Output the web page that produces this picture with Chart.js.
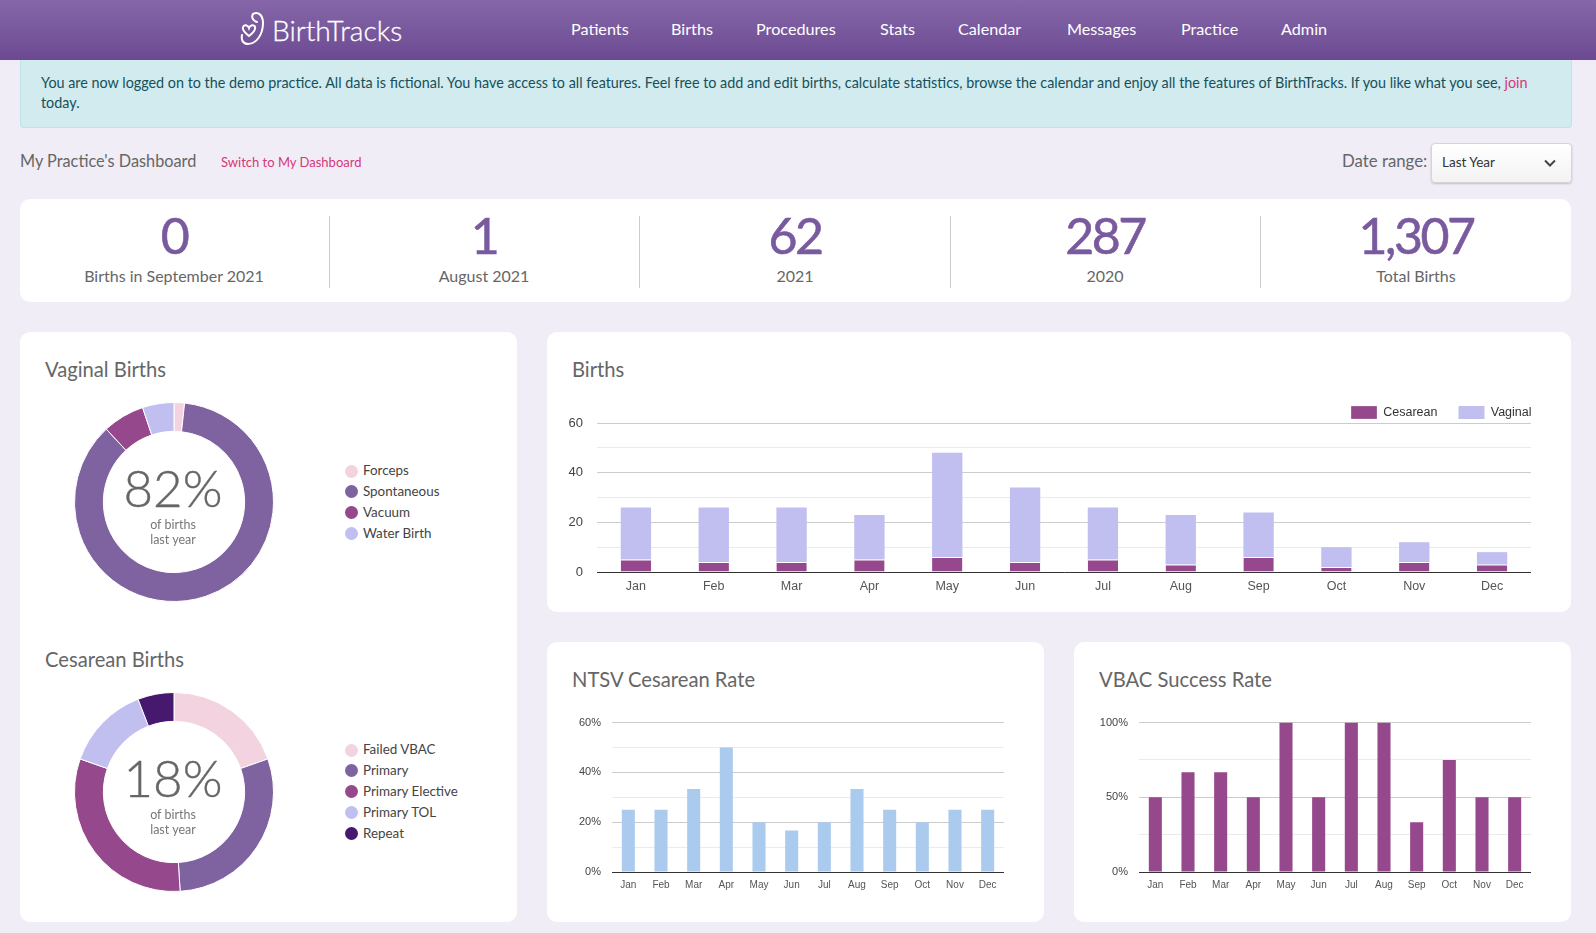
<!DOCTYPE html>
<html>
<head>
<meta charset="utf-8">
<title>BirthTracks</title>
<script src="https://cdn.jsdelivr.net/npm/chart.js@4"></script>
<style>
html, body { margin: 0; padding: 0; }
body { width: 1596px; height: 933px; overflow: hidden; position: relative; background: #f0edf7; font-family: Lato, sans-serif; color: #666; }
.abs, .card, canvas, .t { position: absolute; }
.t { white-space: nowrap; line-height: 1; }
.card { background: #fff; border-radius: 10px; }
#header { position: absolute; left: 0; top: 0; width: 1596px; height: 60px; background: linear-gradient(#8667a9, #6c4a92); }
#header .t { color: #fff; font-size: 16.2px; top: 21px; }
#alert { position: absolute; left: 20px; top: 60px; width: 1550px; height: 67px; background: #d1ebef; border: 1px solid #bfe4e8; border-top: 0; border-radius: 0 0 4px 4px; }
#alert .t { color: #17505a; font-size: 14.37px; left: 20px; }
.title { font-size: 20.2px; color: #666; }
.num { font-size: 50px; color: #7a5a9f; transform: translateX(-50%); top: 210px; letter-spacing: -2.5px; -webkit-text-stroke: .6px #7a5a9f; }
.lab { font-size: 16px; color: #666; transform: translateX(-50%); top: 268px; }
.div { position: absolute; top: 216px; width: 1px; height: 72px; background: #ccc; }
.big { font-size: 51px; font-weight: 300; color: #666; transform: translateX(-50%); -webkit-text-stroke: .4px #666; }
.small { font-size: 12.5px; color: #777; transform: translateX(-50%); }
.dot { position: absolute; width: 13px; height: 13px; border-radius: 50%; }
.leg { font-size: 13.4px; color: #444; }
#select { position: absolute; left: 1431px; top: 143px; width: 139px; height: 38px; border: 1px solid #d5d5d5; border-radius: 4px; background: linear-gradient(#fff, #f3f3f3); box-shadow: 0 1px 2px rgba(0,0,0,.2); }
</style>
</head>
<body>

<div id="header">
  <svg class="abs" style="left:238px;top:11px" width="30" height="36" viewBox="0 0 30 36" fill="none" stroke="#fff" stroke-width="2" stroke-linecap="round">
    <path d="M15 3 C20 0 25 4 25 12 C25 24 18 33 10 33 C5 33 3 29 4 24"/>
    <path d="M15 3 C13 6 15 10 19 11"/>
    <path d="M11 25 C7 22 4 19 5 16 C6 13 10 14 11 17 C12 14 16 13 17 16 C18 19 15 22 11 25 Z"/>
  </svg>
  <div class="t" style="left:272px;top:16px;font-size:28.2px;font-weight:300;color:#fff;-webkit-text-stroke:.3px #fff">BirthTracks</div>
  <div class="t" style="left:571px">Patients</div>
  <div class="t" style="left:671px">Births</div>
  <div class="t" style="left:756px">Procedures</div>
  <div class="t" style="left:880px">Stats</div>
  <div class="t" style="left:958px">Calendar</div>
  <div class="t" style="left:1067px">Messages</div>
  <div class="t" style="left:1181px">Practice</div>
  <div class="t" style="left:1281px">Admin</div>
</div>

<div id="alert">
  <div class="t" style="top:16px">You are now logged on to the demo practice. All data is fictional. You have access to all features. Feel free to add and edit births, calculate statistics, browse the calendar and enjoy all the features of BirthTracks. If you like what you see, <span style="color:#d6377a">join</span></div>
  <div class="t" style="top:36px">today.</div>
</div>

<div class="t" style="left:20px;top:153px;font-size:16.3px">My Practice's Dashboard</div>
<div class="t" style="left:221px;top:156px;font-size:13px;color:#d6377a">Switch to My Dashboard</div>
<div class="t" style="left:1342px;top:153px;font-size:16.8px">Date range:</div>
<div id="select">
  <div class="t" style="left:10px;top:12px;font-size:13.5px;color:#333">Last Year</div>
  <svg class="abs" style="left:112px;top:15px" width="12" height="9" viewBox="0 0 12 9" fill="none" stroke="#444" stroke-width="2"><path d="M1 1.5 L6 6.5 L11 1.5"/></svg>
</div>

<div class="card" style="left:20px;top:199px;width:1551px;height:103px"></div>
<div class="div" style="left:329px"></div>
<div class="div" style="left:639px"></div>
<div class="div" style="left:950px"></div>
<div class="div" style="left:1260px"></div>
<div id="stats"></div>

<div class="card" style="left:20px;top:332px;width:497px;height:590px"></div>
<div class="card" style="left:547px;top:332px;width:1024px;height:280px"></div>
<div class="card" style="left:547px;top:642px;width:497px;height:280px"></div>
<div class="card" style="left:1074px;top:642px;width:497px;height:280px"></div>

<div class="t title" style="left:45px;top:359px">Vaginal Births</div>
<div class="t title" style="left:45px;top:649px">Cesarean Births</div>
<div class="t title" style="left:572px;top:359px">Births</div>
<div class="t title" style="left:572px;top:669px">NTSV Cesarean Rate</div>
<div class="t title" style="left:1099px;top:669px">VBAC Success Rate</div>

<canvas id="vaginalChart" width="200" height="200" style="left:74px;top:402px"></canvas>
<canvas id="cesareanChart" width="200" height="200" style="left:74px;top:692px"></canvas>
<div class="t big" style="left:173px;top:462px">82%</div>
<div class="t small" style="left:173px;top:519px">of births</div>
<div class="t small" style="left:173px;top:534px">last year</div>
<div class="t big" style="left:173px;top:752px">18%</div>
<div class="t small" style="left:173px;top:809px">of births</div>
<div class="t small" style="left:173px;top:824px">last year</div>
<div id="legends"></div>

<canvas id="birthsChart" width="984" height="217" style="left:547px;top:385px"></canvas>
<canvas id="ntsvChart" width="442" height="197" style="left:562px;top:705px"></canvas>
<canvas id="vbacChart" width="442" height="197" style="left:1089px;top:705px"></canvas>

<script>
const months = ["Jan", "Feb", "Mar", "Apr", "May", "Jun", "Jul", "Aug", "Sep", "Oct", "Nov", "Dec"];

const statValues = ["0", "1", "62", "287", "1,307"];
const statLabels = ["Births in September 2021", "August 2021", "2021", "2020", "Total Births"];

const vaginalLabels = ["Forceps", "Spontaneous", "Vacuum", "Water Birth"];
const vaginalValues = [4, 203, 16, 12];
const vaginalColors = ["#f3d3e0", "#7f62a0", "#96488d", "#c0bff0"];

const cesareanLabels = ["Failed VBAC", "Primary", "Primary Elective", "Primary TOL", "Repeat"];
const cesareanValues = [10, 15, 16, 7, 3];
const cesareanColors = ["#f3d3e0", "#7f62a0", "#96488d", "#c0bff0", "#46196f"];

const cesareanBirths = [5, 4, 4, 5, 6, 4, 5, 3, 6, 2, 4, 3];
const vaginalBirths = [21, 22, 22, 18, 42, 30, 21, 20, 18, 8, 8, 5];
const ntsvRate = [25, 25, 33.3, 50, 20, 16.7, 20, 33.3, 25, 20, 25, 25];
const vbacRate = [50, 66.7, 66.7, 50, 100, 50, 100, 100, 33.3, 75, 50, 50];

Chart.defaults.animation = false;
Chart.defaults.responsive = false;
Chart.defaults.font.family = "'Liberation Sans', Arial, sans-serif";
Chart.defaults.plugins.tooltip.enabled = false;

// stat strip
const statCenters = [174, 484, 795, 1105, 1416];
let statHtml = "";
statValues.forEach(function (v, i) {
    statHtml += '<div class="t num" style="left:' + statCenters[i] + 'px">' + v + '</div>';
    statHtml += '<div class="t lab" style="left:' + statCenters[i] + 'px">' + statLabels[i] + '</div>';
});
document.getElementById("stats").innerHTML = statHtml;

// donut legends
function addLegend(labels, colors, firstY) {
    let html = "";
    labels.forEach(function (label, i) {
        const y = firstY + i * 20.9;
        html += '<div class="dot" style="left:345px;top:' + (y - 6.5) + 'px;background:' + colors[i] + '"></div>';
        html += '<div class="t leg" style="left:363px;top:' + (y - 7) + 'px">' + label + '</div>';
    });
    document.getElementById("legends").innerHTML += html;
}
addLegend(vaginalLabels, vaginalColors, 471);
addLegend(cesareanLabels, cesareanColors, 750);

function donut(id, labels, values, colors) {
    new Chart(document.getElementById(id), {
        type: "doughnut",
        data: {
            labels: labels,
            datasets: [{ data: values, backgroundColor: colors, borderColor: "#fff", borderWidth: 1 }]
        },
        options: { cutout: "71%", plugins: { legend: { display: false } } }
    });
}
donut("vaginalChart", vaginalLabels, vaginalValues, vaginalColors);
donut("cesareanChart", cesareanLabels, cesareanValues, cesareanColors);

// same look on all three bar charts: light minor lines, labels on the majors only
function barOptions(o) {
    return {
        layout: { padding: { top: 12 } },
        plugins: { legend: { display: false } },
        scales: {
            x: {
                stacked: true,
                afterFit: function (s) { s.height = 30; },
                grid: { display: false, drawTicks: false },
                border: { color: "#333", width: 1, z: 1 },
                ticks: { color: "#555", font: { size: o.xSize }, padding: 7, maxRotation: 0, autoSkip: false }
            },
            y: {
                stacked: true,
                min: 0,
                max: o.max,
                afterFit: function (s) { s.width = 50; },
                afterBuildTicks: function (s) {
                    s.ticks = [];
                    for (let v = 0; v <= o.max; v += o.minor) s.ticks.push({ value: v });
                },
                grid: {
                    drawTicks: false,
                    color: function (ctx) { return ctx.tick.value % o.major === 0 ? "#cccccc" : "#ebebeb"; }
                },
                border: { display: false },
                ticks: {
                    color: "#444",
                    font: { size: o.ySize },
                    padding: o.yPad,
                    autoSkip: false,
                    callback: function (v) { return v % o.major === 0 ? v + o.unit : ""; }
                }
            }
        }
    };
}

const birthsOptions = barOptions({ max: 60, major: 20, minor: 10, unit: "", xSize: 12.5, ySize: 13, yPad: 14 });
birthsOptions.layout.padding = { top: 0 };
birthsOptions.plugins.legend = {
    display: true,
    position: "top",
    align: "end",
    labels: { boxWidth: 26, boxHeight: 13, padding: 21, color: "#333", font: { size: 12.5 } }
};

new Chart(document.getElementById("birthsChart"), {
    type: "bar",
    data: {
        labels: months,
        datasets: [
            { label: "Cesarean", data: cesareanBirths, backgroundColor: "#96488d", borderColor: "#fff", borderWidth: { top: 1 }, borderSkipped: false, barPercentage: 0.39, categoryPercentage: 1 },
            { label: "Vaginal", data: vaginalBirths, backgroundColor: "#c0bff0", barPercentage: 0.39, categoryPercentage: 1 }
        ]
    },
    options: birthsOptions,
    plugins: [{
        // legend sits close above the plot and flush with its right edge
        id: "tightLegend",
        beforeInit: function (chart) {
            const fit = chart.legend.fit;
            chart.legend.fit = function () {
                fit.call(this);
                this.height = 38;
            };
        },
        afterLayout: function (chart) {
            chart.legend.right += 21.5;
        }
    }]
});

new Chart(document.getElementById("ntsvChart"), {
    type: "bar",
    data: {
        labels: months,
        datasets: [{ data: ntsvRate, backgroundColor: "#abcbee", barPercentage: 0.4, categoryPercentage: 1 }]
    },
    options: barOptions({ max: 60, major: 20, minor: 10, unit: "%", xSize: 10, ySize: 11, yPad: 11 })
});

new Chart(document.getElementById("vbacChart"), {
    type: "bar",
    data: {
        labels: months,
        datasets: [{ data: vbacRate, backgroundColor: "#96488d", barPercentage: 0.4, categoryPercentage: 1 }]
    },
    options: barOptions({ max: 100, major: 50, minor: 25, unit: "%", xSize: 10, ySize: 11, yPad: 11 })
});
</script>
</body>
</html>
